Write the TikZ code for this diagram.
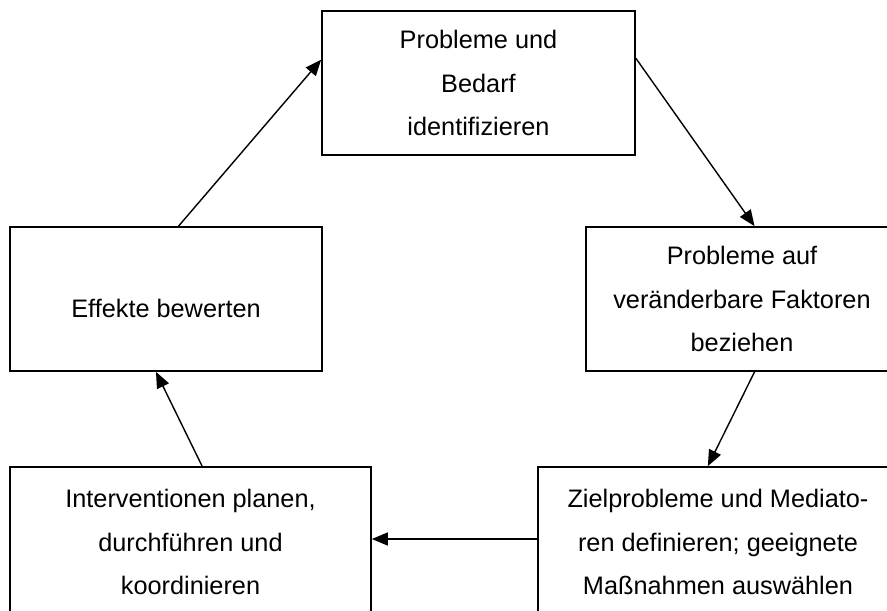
\documentclass[tikz,border=0pt]{standalone}
\usepackage{fontspec}
\setmainfont{Liberation Sans}
\usepackage{tikz}
\usetikzlibrary{arrows.meta, calc}
\tikzset{>={Triangle[length=0.32cm, width=0.26cm]}}
\tikzset{kasten/.style={draw, line width=1pt, align=center, inner sep=0pt, minimum height=2.88cm, font=\fontsize{14.4}{25}\selectfont}}

\begin{document}
\begin{tikzpicture}[x=0.02cm, y=-0.02cm]

			\useasboundingbox (0,0) rectangle (887,610);

			\node [kasten, minimum width=6.26cm] (prob) at (478.5,83) {Probleme und\\Bedarf\\identifizieren};
			\node [kasten, minimum width=6.24cm] (fakt) at (742,299) {Probleme auf\\veränderbare Faktoren\\beziehen};
			\node [kasten, minimum width=6.24cm] (eff) at (166,299) {\raisebox{-0.19cm}[\height][\depth]{Effekte bewerten}};
			\node [kasten, minimum width=7.22cm, minimum height=3cm] (interv) at (190.5,542) {Interventionen planen,\\durchführen und\\koordinieren};
			\node [kasten, minimum width=7.2cm, minimum height=3cm] (ziel) at (718,542) {Zielprobleme und Mediato-\\ren definieren; geeignete\\Maßnahmen auswählen};

%			Kreislauf im Uhrzeigersinn
			\draw [->, line width=0.8pt] ($(eff.north west)!0.54!(eff.north east)$) -- ($(prob.north west)!0.34!(prob.south west)$);
			\draw [->, line width=0.8pt] ($(prob.north east)!0.33!(prob.south east)$) -- ($(fakt.north west)!0.54!(fakt.north east)$);
			\draw [->, line width=0.8pt] ($(fakt.south west)!0.54!(fakt.south east)$) -- ($(ziel.north west)!0.472!(ziel.north east)$);
			\draw [->, line width=0.8pt] ([yshift=0.06cm]ziel.west) -- ([yshift=0.06cm]interv.east);
			\draw [->, line width=0.8pt] ($(interv.north west)!0.532!(interv.north east)$) -- ($(eff.south west)!0.468!(eff.south east)$);

\end{tikzpicture}
\end{document}
